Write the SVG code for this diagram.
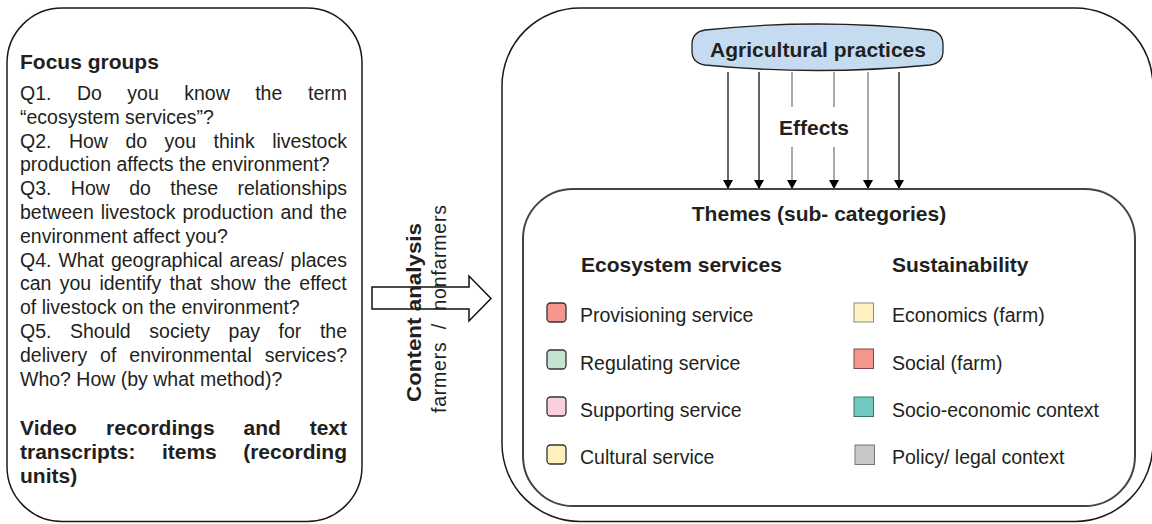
<svg xmlns="http://www.w3.org/2000/svg" width="1152" height="524" viewBox="0 0 1152 524">
  <style>
    text { font-family: "Liberation Sans", Arial, sans-serif; fill: #231f20; }
    .q { font-size: 19.5px; }
    .h { font-size: 21px; font-weight: bold; }
    .item { font-size: 19.5px; }
    .frame { fill: #ffffff; stroke: #1a1a1a; stroke-width: 1.5; }
    .inner { fill: none; stroke: #444444; stroke-width: 2; }
    .sq { stroke: #333333; stroke-width: 1.3; }
    .fx-dark { stroke: #111111; stroke-width: 1.3; }
    .fx-grey { stroke: #7a7a7a; stroke-width: 1.3; }
  </style>
  <defs>
    <marker id="tip" viewBox="0 0 9 10" refX="9" refY="5" markerWidth="9" markerHeight="10" markerUnits="userSpaceOnUse" orient="auto">
      <path d="M0,0 L9,5 L0,10 Z" fill="#000000"/>
    </marker>
  </defs>

  <!-- left panel: focus group questions (justified lines set word by word) -->
  <g id="focus-groups">
    <rect class="frame" x="7" y="8" width="355" height="513.5" rx="55" ry="55"/>
    <text class="h" x="20" y="69">Focus groups</text>
    <text class="q" y="100"><tspan x="20">Q1.</tspan><tspan x="76.9">Do</tspan><tspan x="127.3">you</tspan><tspan x="184.2">know</tspan><tspan x="255.2">the</tspan><tspan x="308">term</tspan></text>
    <text class="q" x="20" y="123.8">“ecosystem services”?</text>
    <text class="q" y="147.6"><tspan x="20">Q2.</tspan><tspan x="68.9">How</tspan><tspan x="125.4">do</tspan><tspan x="164.6">you</tspan><tspan x="213.5">think</tspan><tspan x="272.2">livestock</tspan></text>
    <text class="q" x="20" y="171.4">production affects the environment?</text>
    <text class="q" y="195.2"><tspan x="20">Q3.</tspan><tspan x="70.8">How</tspan><tspan x="129.2">do</tspan><tspan x="170.3">these</tspan><tspan x="237.5">relationships</tspan></text>
    <text class="q" y="219"><tspan x="20">between</tspan><tspan x="100.7">livestock</tspan><tspan x="182.5">production</tspan><tspan x="280.5">and</tspan><tspan x="319.9">the</tspan></text>
    <text class="q" x="20" y="242.8">environment affect you?</text>
    <text class="q" y="266.6"><tspan x="20">Q4.</tspan><tspan x="58.4">What</tspan><tspan x="110.9">geographical</tspan><tspan x="229.5">areas/</tspan><tspan x="290.6">places</tspan></text>
    <text class="q" y="290.4"><tspan x="20">can</tspan><tspan x="59.7">you</tspan><tspan x="99.4">identify</tspan><tspan x="169.4">that</tspan><tspan x="210.2">show</tspan><tspan x="263.9">the</tspan><tspan x="299.3">effect</tspan></text>
    <text class="q" x="20" y="314.2">of livestock on the environment?</text>
    <text class="q" y="338"><tspan x="20">Q5.</tspan><tspan x="70">Should</tspan><tspan x="149.3">society</tspan><tspan x="228.6">pay</tspan><tspan x="278.6">for</tspan><tspan x="319.9">the</tspan></text>
    <text class="q" y="361.8"><tspan x="20">delivery</tspan><tspan x="100.1">of</tspan><tspan x="129.3">environmental</tspan><tspan x="264.7">services?</tspan></text>
    <text class="q" x="20" y="385.6">Who? How (by what method)?</text>
    <text class="h" y="435"><tspan x="20">Video</tspan><tspan x="106.1">recordings</tspan><tspan x="243.5">and</tspan><tspan x="309.7">text</tspan></text>
    <text class="h" y="459"><tspan x="20">transcripts:</tspan><tspan x="161.9">items</tspan><tspan x="243.2">(recording</tspan></text>
    <text class="h" x="20" y="483">units)</text>
  </g>

  <!-- block arrow with rotated labels -->
  <g id="content-analysis">
    <polygon points="372,287 469,287 469,276 491,298.5 469,321 469,309 372,309" fill="none" stroke="#111111" stroke-width="1.5"/>
    <text class="h" transform="translate(421,402) rotate(-90)" textLength="179" lengthAdjust="spacingAndGlyphs">Content analysis</text>
    <text class="q" font-size="21" transform="translate(446,413) rotate(-90)" xml:space="preserve" textLength="208" lengthAdjust="spacing">farmers  /  nonfarmers</text>
  </g>

  <!-- right panel -->
  <g id="framework">
    <rect class="frame" x="502" y="8" width="651" height="513.5" rx="78" ry="78"/>
  </g>

  <g id="agricultural-practices">
    <path d="M705,30 Q817.5,18 930,30 Q943,32 943,45 L943,51 Q943,63 930,65 Q817.5,76 705,65 Q692,63 692,51 L692,45 Q692,32 705,30 Z" fill="#c5dcf0" stroke="#222222" stroke-width="1.3"/>
    <text class="h" x="818" y="57" text-anchor="middle">Agricultural practices</text>
  </g>

  <g id="effects">
    <line class="fx-dark" x1="728" y1="72" x2="728" y2="189" marker-end="url(#tip)"/>
    <line class="fx-dark" x1="759" y1="72" x2="759" y2="189" marker-end="url(#tip)"/>
    <line class="fx-grey" x1="792" y1="72" x2="792" y2="189" marker-end="url(#tip)"/>
    <line class="fx-grey" x1="834" y1="72" x2="834" y2="189" marker-end="url(#tip)"/>
    <line class="fx-grey" x1="868" y1="72" x2="868" y2="189" marker-end="url(#tip)"/>
    <line class="fx-dark" x1="899" y1="72" x2="899" y2="189" marker-end="url(#tip)"/>
    <rect x="777" y="107" width="74" height="40" fill="#ffffff"/>
    <text class="h" x="814" y="135" text-anchor="middle">Effects</text>
  </g>

  <g id="themes">
    <rect class="inner" x="523" y="189" width="612" height="317" rx="50" ry="50"/>
    <text class="h" x="819" y="221" text-anchor="middle">Themes (sub- categories)</text>
  </g>

  <g id="ecosystem-services">
    <text class="h" x="581" y="272">Ecosystem services</text>
    <rect class="sq" x="547" y="303" width="19" height="19" rx="3.5" fill="#f4958e"/>
    <text class="item" x="580" y="322">Provisioning service</text>
    <rect class="sq" x="547" y="350" width="19" height="19" rx="3.5" fill="#c5e3d1"/>
    <text class="item" x="580" y="369.5">Regulating service</text>
    <rect class="sq" x="547" y="397" width="19" height="19" rx="3.5" fill="#f9d0dc"/>
    <text class="item" x="580" y="416.5">Supporting service</text>
    <rect class="sq" x="547" y="445" width="19" height="19" rx="3.5" fill="#fff1bd"/>
    <text class="item" x="580" y="464">Cultural service</text>
  </g>

  <g id="sustainability">
    <text class="h" x="892" y="272">Sustainability</text>
    <rect x="854" y="303" width="19.5" height="19" fill="#fff2c1" stroke="#8a8a7a" stroke-width="1"/>
    <text class="item" x="892" y="322">Economics (farm)</text>
    <rect x="854" y="349" width="19.5" height="19.5" fill="#f4958e" stroke="#7a4a48" stroke-width="1"/>
    <text class="item" x="892" y="369.5">Social (farm)</text>
    <rect x="854" y="397" width="19.5" height="19.5" fill="#6fc9bd" stroke="#3f6f69" stroke-width="1"/>
    <text class="item" x="892" y="416.5">Socio-economic context</text>
    <rect x="855" y="445" width="19.5" height="19.5" fill="#c8c8c8" stroke="#777777" stroke-width="1"/>
    <text class="item" x="892" y="464">Policy/ legal context</text>
  </g>
</svg>
